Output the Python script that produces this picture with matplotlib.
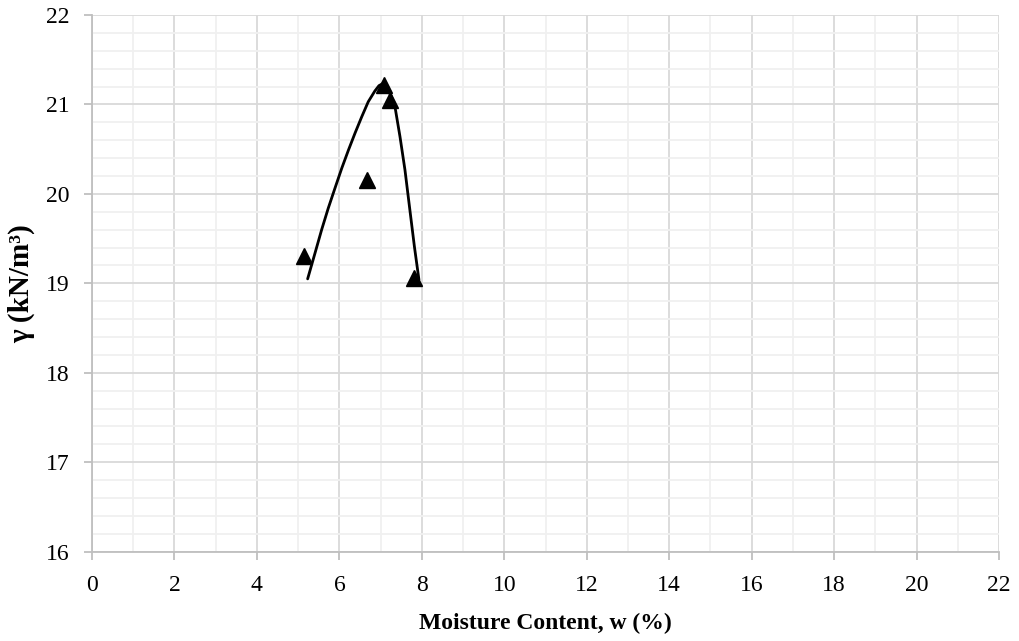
import matplotlib
matplotlib.use('Agg')
import matplotlib.pyplot as plt
from matplotlib.ticker import MultipleLocator

plt.rcParams['font.family'] = ['Liberation Serif', 'DejaVu Serif']

# 측정점
moisture = [5.15, 6.68, 7.09, 7.23, 7.81]
unit_weight = [19.31, 20.16, 21.22, 21.05, 19.06]

# 손으로 그린 곡선 (그림에서 읽은 점)
curve_w = [5.23, 5.41, 5.57, 5.73, 5.89, 6.06, 6.22, 6.38, 6.54, 6.70, 6.86, 6.96,
           7.04, 7.11, 7.18, 7.26, 7.35, 7.47, 7.59, 7.71, 7.82, 7.93]
curve_g = [19.05, 19.34, 19.60, 19.84, 20.06, 20.29, 20.49, 20.68, 20.86, 21.03, 21.15, 21.21,
           21.23, 21.21, 21.16, 21.09, 20.97, 20.64, 20.27, 19.82, 19.41, 19.04]

x_ticks = list(range(0, 23, 2))
y_ticks = list(range(16, 23))

fig = plt.figure(figsize=(10.19, 6.41), dpi=100)
ax = fig.add_axes([0.0903, 0.1393, 0.8901, 0.8373])

ax.plot(curve_w, curve_g, color='black', linewidth=2, solid_capstyle='round',
        solid_joinstyle='round', zorder=3)
ax.plot(moisture, unit_weight, linestyle='none', marker='^', markersize=12,
        color='black', zorder=4)

ax.set_xlim(0, 22)
ax.set_ylim(16, 22)
ax.set_xticks(x_ticks)
ax.set_yticks(y_ticks)
ax.xaxis.set_minor_locator(MultipleLocator(1))
ax.yaxis.set_minor_locator(MultipleLocator(0.2))

ax.grid(which='major', color='#d9d9d9', linewidth=1.3)
ax.grid(which='minor', color='#f0f0f0', linewidth=1.3)
ax.set_axisbelow(True)

for side in ['top', 'right']:
    ax.spines[side].set_visible(False)
for side in ['left', 'bottom']:
    ax.spines[side].set_color('#bfbfbf')
    ax.spines[side].set_linewidth(1.3)

ax.tick_params(which='major', direction='out', length=6, width=1.3, color='#bfbfbf',
               labelsize=17)
ax.tick_params(axis='x', which='major', pad=11)
ax.tick_params(axis='y', which='major', pad=10)
ax.tick_params(which='minor', length=0)

ax.set_xlabel('Moisture Content, w (%)', fontsize=17, fontweight='bold', labelpad=12)
ax.set_ylabel('γ (kN/m³)', fontsize=21, fontweight='bold', labelpad=8)

fig.savefig('out.png', dpi=100)
